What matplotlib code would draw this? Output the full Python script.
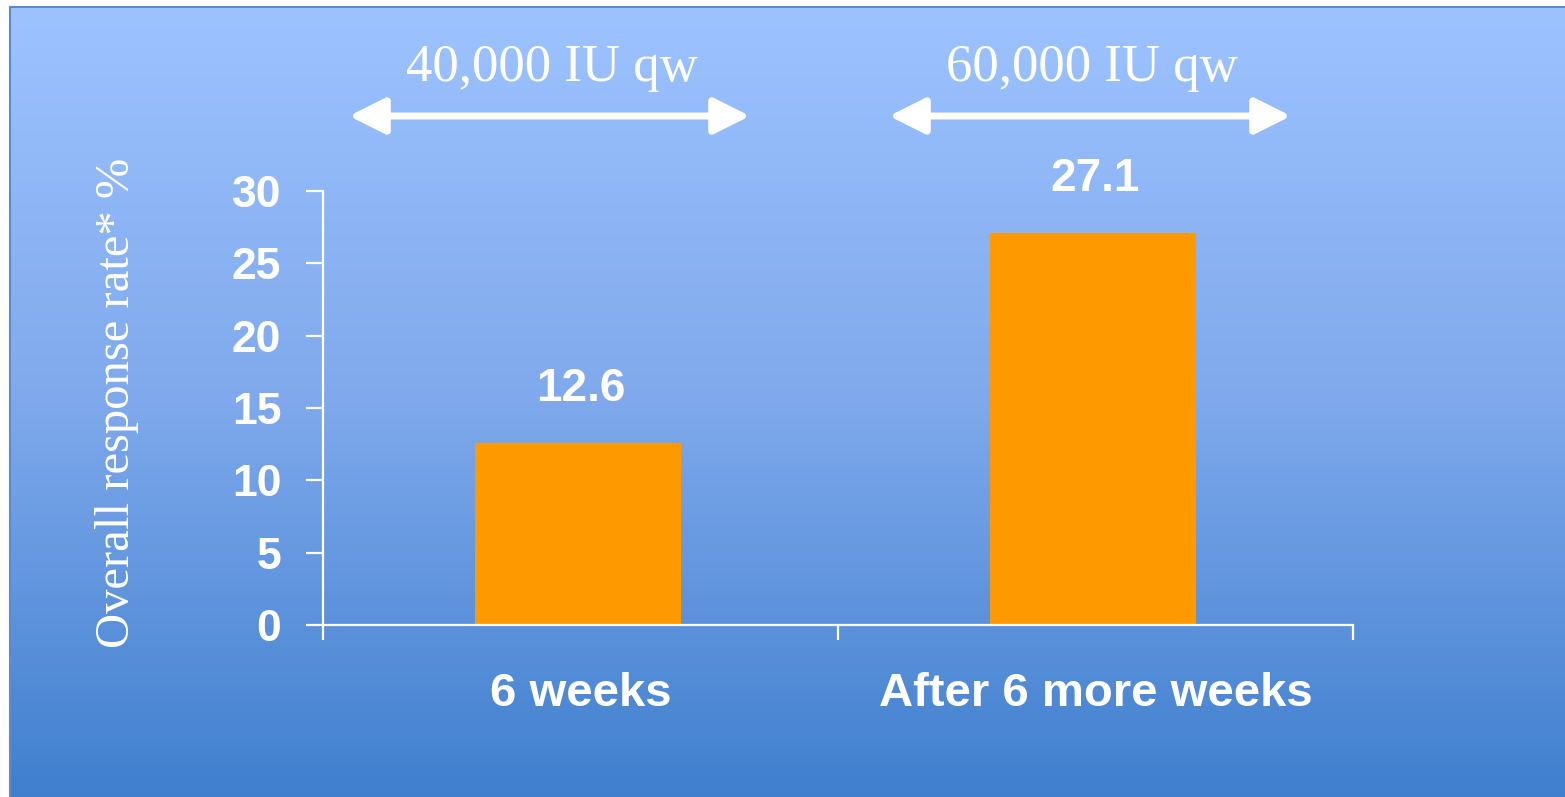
import numpy as np
import matplotlib
matplotlib.use("Agg")
import matplotlib.pyplot as plt
from matplotlib.colors import LinearSegmentedColormap

# Data
categories = ["6 weeks", "After 6 more weeks"]
response_rate = [12.6, 27.1]
dose_labels = ["40,000 IU qw", "60,000 IU qw"]
y_ticks = [0, 5, 10, 15, 20, 25, 30]

W, H = 1565, 797
fig = plt.figure(figsize=(W / 100, H / 100), dpi=100, facecolor="white")


def px(x, y):
    # pixel coords (origin top-left) -> figure fraction
    return x / W, 1 - y / H


# =====================================
# GRADIENT BACKGROUND
# =====================================
bg = fig.add_axes([10 / W, 0, 1 - 10 / W, 1 - 7 / H], zorder=0)
cmap = LinearSegmentedColormap.from_list("bluefade", ["#9dc3ff", "#7fa9ec", "#3f7fce"])
grad = np.linspace(0, 1, 256).reshape(-1, 1)
bg.imshow(grad, cmap=cmap, aspect="auto", extent=[0, 1, 0, 1], origin="upper")
bg.set_xlim(0, 1)
bg.set_ylim(0, 1)
for side in ["right", "bottom"]:
    bg.spines[side].set_visible(False)
for side in ["top", "left"]:
    bg.spines[side].set_color("#5b8bcc")
    bg.spines[side].set_linewidth(1.5)
bg.set_xticks([])
bg.set_yticks([])

# =====================================
# BAR CHART
# =====================================
x0, y0 = px(323, 625)
x1, y1 = px(1353, 191)
ax = fig.add_axes([x0, y0, x1 - x0, y1 - y0], zorder=1)
ax.patch.set_alpha(0)

pos = np.arange(len(categories)) + 0.5
ax.bar(pos - 0.005, response_rate, width=0.4, color="#ff9900", zorder=2)

ax.set_xlim(0, len(categories))
ax.set_ylim(0, 30)
ax.set_yticks(y_ticks)
ax.set_yticklabels([str(t) for t in y_ticks])
ax.set_xticks(np.arange(len(categories) + 1))
ax.set_xticklabels([])

for side in ["top", "right"]:
    ax.spines[side].set_visible(False)
for side in ["left", "bottom"]:
    ax.spines[side].set_color("white")
    ax.spines[side].set_linewidth(1.6)

ax.tick_params(axis="y", colors="white", length=12, width=1.6, pad=18,
               labelsize=32)
ax.tick_params(axis="x", colors="white", length=11, width=1.6)
for lbl in ax.get_yticklabels():
    lbl.set_fontfamily("Liberation Sans")
    lbl.set_fontweight("bold")

# value labels
for xp, v in zip(pos, response_rate):
    ax.text(xp, v + 3.7, f"{v}", ha="center", va="center", color="white",
            fontsize=33, fontweight="bold", family="Liberation Sans")

# category labels
for xp, c in zip(pos, categories):
    ax.text(xp, -4.75, c, ha="center", va="center", color="white",
            fontsize=34, fontweight="bold", family="Liberation Sans")

# axis title
fig.text(*px(117, 403), "Overall response rate* %", rotation=90,
         ha="center", va="center", color="white", fontsize=35,
         family="Liberation Serif")

# =====================================
# DOSE ARROWS
# =====================================
arrow_spans = [(353, 746), (893, 1287)]
for (a, b), lab in zip(arrow_spans, dose_labels):
    fig.text(*px((a + b) / 2 + 2, 68), lab, ha="center", va="center",
             color="white", fontsize=38, family="Liberation Serif")
    ax.annotate("", xy=px(b + 4, 116), xytext=px(a - 4, 116),
                xycoords="figure fraction", textcoords="figure fraction",
                arrowprops=dict(arrowstyle="<|-|>,head_length=1.1,head_width=0.55",
                                color="white", lw=5, mutation_scale=20,
                                shrinkA=0, shrinkB=0))

fig.savefig("out.png", dpi=100, facecolor="white")
